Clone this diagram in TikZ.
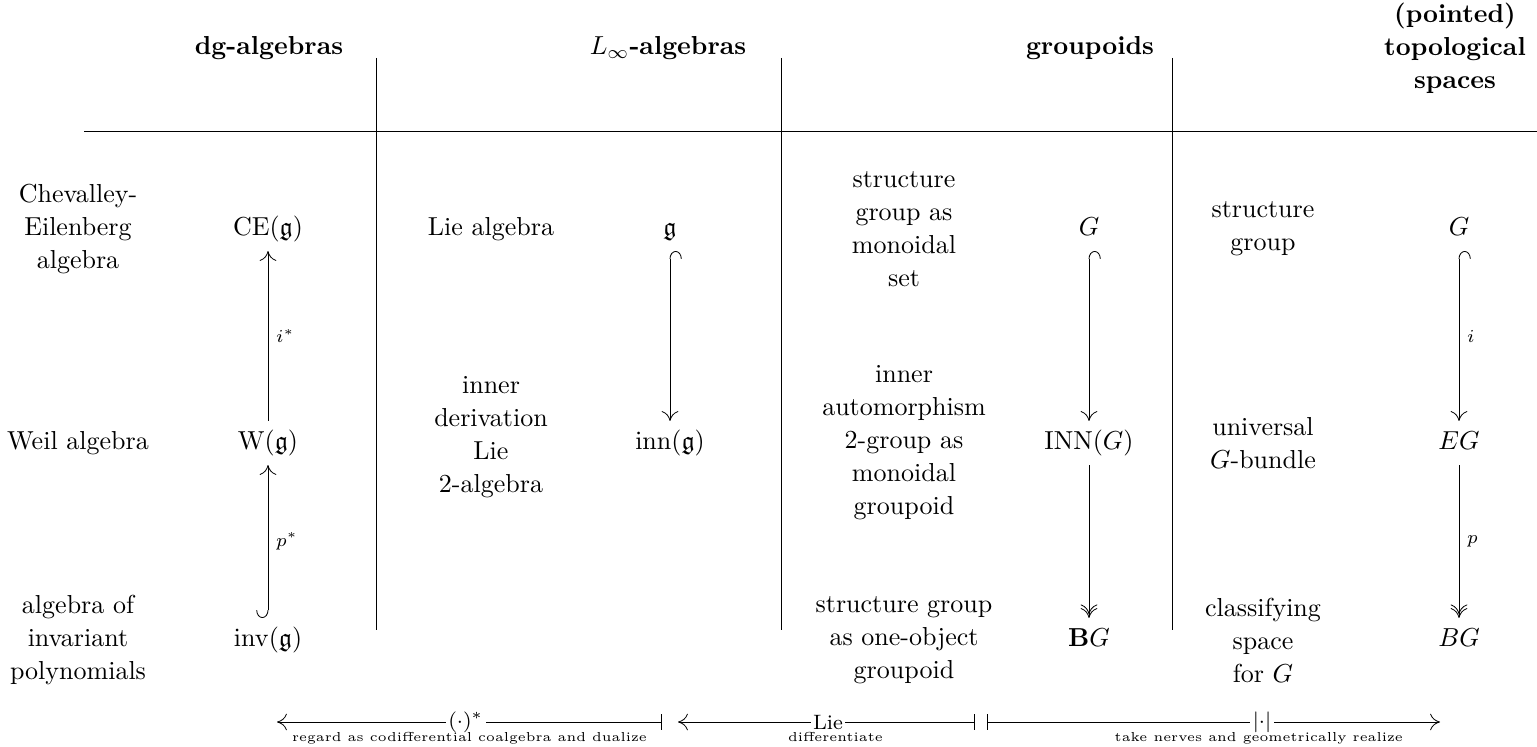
\documentclass[tikz,border=0pt]{standalone}
\usepackage{amssymb}
\usetikzlibrary{arrows.meta, positioning}

\begin{document}
\begin{tikzpicture}[
	x=0.3846pt, y=-0.3846pt, line width=0.32pt,
	head/.style = {align=center, font=\bfseries\fontsize{10}{12.7}\selectfont},
	txt/.style  = {align=center, font=\fontsize{10}{12.7}\selectfont},
	obj/.style  = {inner sep=2pt, text height=1.6ex, text depth=0.4ex},
	lbl/.style  = {font=\scriptsize, right, inner sep=3pt},
	mor/.style  = {-{Computer Modern Rightarrow[length=3.8pt, width=6.4pt]}, shorten <=2pt, shorten >=2pt},
	inc/.style  = {{Hooks[right, length=3pt, width=9pt]}-{Computer Modern Rightarrow[length=3.8pt, width=6.4pt]}, shorten <=2pt, shorten >=2pt},
	epi/.style  = {-{Computer Modern Rightarrow[length=3.8pt, width=6.4pt, sep=-2.4pt]Computer Modern Rightarrow[length=3.8pt, width=6.4pt]}, shorten <=2pt, shorten >=2pt},
	onln/.style = {fill=white, inner sep=1pt, font=\footnotesize},
	note/.style = {font=\tiny, inner sep=1pt}
     ]
		\useasboundingbox (0,0) rectangle (1537,747);
%
		\node[head] (hdg)   at (269,48)  {dg-algebras};
		\node[head] (hlinf) at (668,48)  {$L_\infty$-algebras};
		\node[head] (hgrp)  at (1090,48) {groupoids};
		\node[head] (htop)  at (1455,48) {(pointed)\\topological\\spaces};
%
		\draw (84,131) -- (1537,131);
		\foreach \x in {376,781,1172}
			\draw (\x,58) -- (\x,630);
%
		\node[txt] (rce)  at (78,229) {Chevalley-\\Eilenberg\\algebra};
		\node[txt] (rw)   at (78,443) {Weil algebra};
		\node[txt] (rinv) at (78,640) {algebra of\\invariant\\polynomials};
%
		\node[obj] (ce)  at (268,229) {$\mathrm{CE}(\mathfrak{g})$};
		\node[obj] (w)   at (268,443) {$\mathrm{W}(\mathfrak{g})$};
		\node[obj] (inv) at (268,640) {$\mathrm{inv}(\mathfrak{g})$};
		\draw[inc] (inv) to node[lbl] {$p^*$} (w);
		\draw[mor] (w) to node[lbl] {$i^*$} (ce);
%
		\node[txt] (tlie)  at (491,229) {Lie algebra};
		\node[txt] (tder)  at (491,437) {inner\\derivation\\Lie\\2-algebra};
		\node[obj] (g)   at (670,229) {$\mathfrak{g}$};
		\node[obj] (inn) at (670,443) {$\mathrm{inn}(\mathfrak{g})$};
		\draw[inc] (g) to (inn);
%
		\node[txt] (tmon) at (904,229) {structure\\group as\\monoidal\\set};
		\node[txt] (taut) at (904,443) {inner\\automorphism\\2-group as\\monoidal\\groupoid};
		\node[txt] (tone) at (904,640) {structure group\\as one-object\\groupoid};
		\node[obj] (grp) at (1089,229) {$G$};
		\node[obj] (INN) at (1089,443) {$\mathrm{INN}(G)$};
		\node[obj] (bbg) at (1089,640) {$\mathbf{B}G$};
		\draw[inc] (grp) to (INN);
		\draw[epi] (INN) to (bbg);
%
		\node[txt] (tsg)  at (1263,229) {structure\\group};
		\node[txt] (tuni) at (1263,443) {universal\\$G$-bundle};
		\node[txt] (tcls) at (1263,640) {classifying\\space\\for $G$};
		\node[obj] (top) at (1459,229) {$G$};
		\node[obj] (eg)  at (1459,443) {$EG$};
		\node[obj] (bg)  at (1459,640) {$BG$};
		\draw[inc] (top) to node[lbl] {$i$} (eg);
		\draw[epi] (eg) to node[lbl] {$p$} (bg);
%
		\coordinate (d1) at (277,722);  \coordinate (d2) at (662,722);
		\coordinate (l1) at (678,722);  \coordinate (l2) at (975,722);
		\coordinate (r1) at (987,722);  \coordinate (r2) at (1440,722);
		\draw[{Computer Modern Rightarrow[length=3.8pt, width=6.4pt]}-{Bar[width=6pt]}] (d1) to
			node[onln, pos=.49] {$(\cdot)^*$}
			node[note, below=3pt, pos=.5] {regard as codifferential coalgebra and dualize} (d2);
		\draw[{Computer Modern Rightarrow[length=3.8pt, width=6.4pt]}-{Bar[width=6pt]}] (l1) to
			node[onln, pos=.505] {Lie}
			node[note, below=3pt, pos=.53] {differentiate} (l2);
		\draw[{Bar[width=6pt]}-{Computer Modern Rightarrow[length=3.8pt, width=6.4pt]}] (r1) to
			node[onln, pos=.607] {$|{\cdot}|$}
			node[note, below=3pt, pos=.6] {take nerves and geometrically realize} (r2);
\end{tikzpicture}
\end{document}
